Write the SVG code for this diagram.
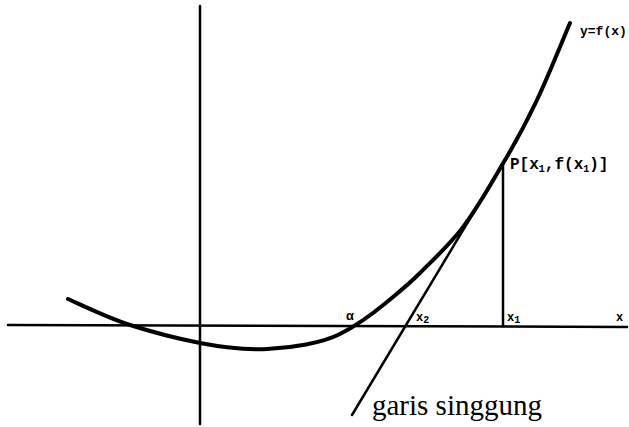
<svg xmlns="http://www.w3.org/2000/svg" width="629" height="427" viewBox="0 0 629 427">
<style>
.ax{stroke:#000;stroke-width:2.5;fill:none;stroke-linecap:round}
.cv{stroke:#000;stroke-width:4;fill:none;stroke-linecap:round}
.ln{stroke:#000;stroke-width:2.5;fill:none;stroke-linecap:round}
.lb{font-family:"Liberation Mono",monospace;font-weight:bold;fill:#000}
.cap{font-family:"Liberation Serif",serif;fill:#000}
</style>
<rect width="629" height="427" fill="#fff"/>
<g id="axes">
<line class="ax" x1="8" y1="325" x2="627" y2="327"/>
<line class="ax" x1="200" y1="6" x2="200" y2="424"/>
</g>
<g id="curve">
<path class="cv" d="M68,299 C78.3,303.5 108,318 130,325 C152,332 176.7,338.5 200,343 C223.3,347.5 245,350 267,349 C292,348 322,343 340,334 C352,328 370,316 387,302 C399,292 409,284 420,273 C434,259 447,247 460,231 C475,212 490,186 502,165 C516,142 525.7,123.7 537,100 C548.3,76.3 564.5,35.8 570,23"/>
</g>
<g id="connectors">
<line class="ln" x1="352" y1="415" x2="507" y2="157"/>
<line class="ln" x1="503" y1="165" x2="503" y2="326"/>
</g>
<g id="labels">
<text class="lb" x="580" y="35" font-size="13">y=f(x)</text>
<text class="lb" x="510" y="169" font-size="16">P[x<tspan font-size="10" dy="3">1</tspan><tspan dy="-3">,f(x</tspan><tspan font-size="10" dy="3">1</tspan><tspan dy="-3">)]</tspan></text>
<text class="lb" x="346" y="320" font-size="13">α</text>
<text class="lb" x="416" y="321" font-size="12">x<tspan font-size="10" dy="2">2</tspan></text>
<text class="lb" x="507" y="321" font-size="12">x<tspan font-size="10" dy="2">1</tspan></text>
<text class="lb" x="616" y="321" font-size="12">x</text>
<text class="cap" x="372" y="415" font-size="29">garis singgung</text>
</g>
</svg>
